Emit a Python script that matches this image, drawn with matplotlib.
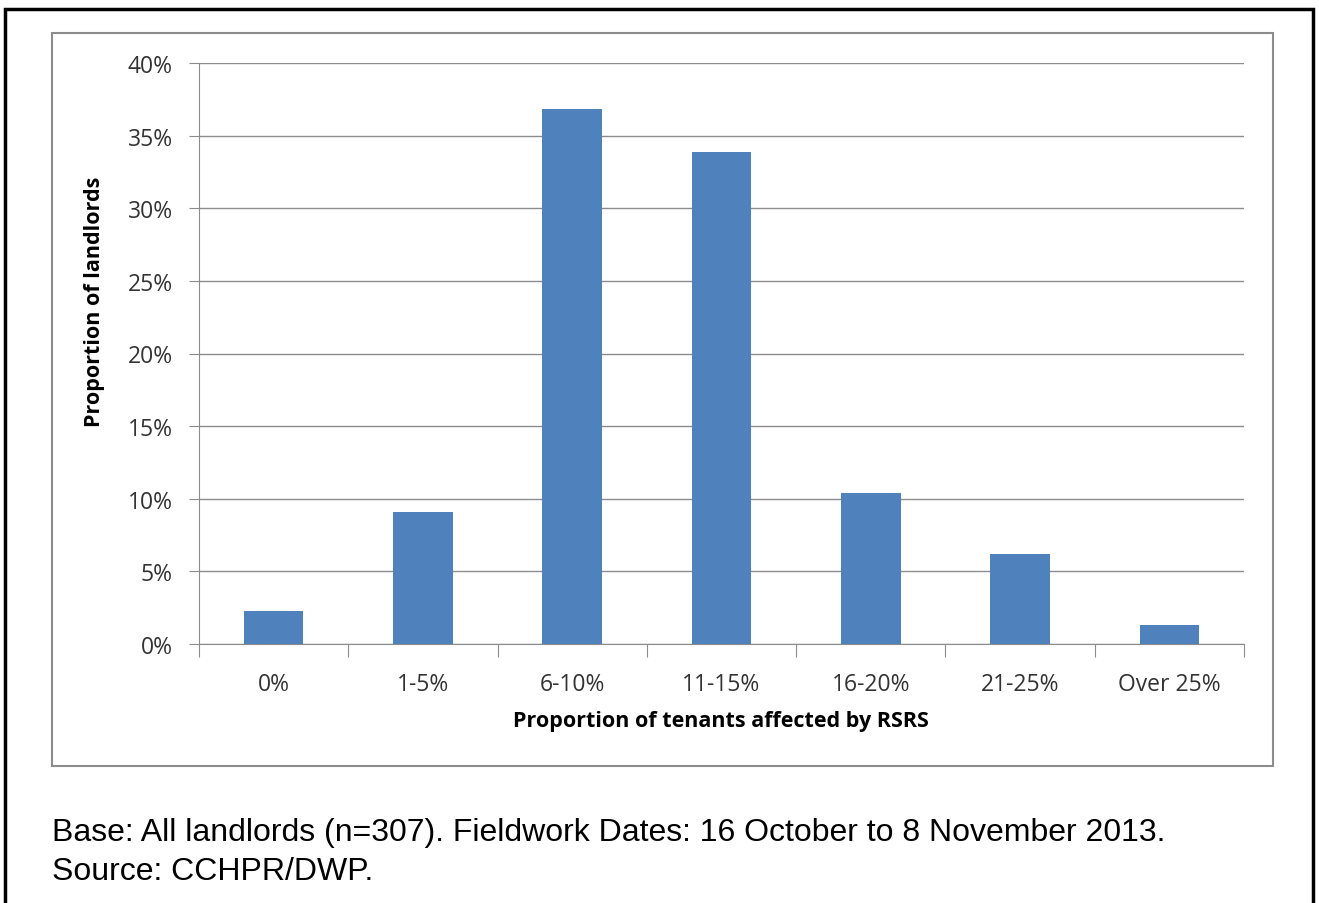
import matplotlib.pyplot as plt
from matplotlib.patches import Rectangle
from matplotlib.ticker import FuncFormatter

categories = ["0%", "1-5%", "6-10%", "11-15%", "16-20%", "21-25%", "Over 25%"]
landlord_share = [2.3, 9.1, 36.8, 33.9, 10.4, 6.2, 1.3]
y_ticks = [0, 5, 10, 15, 20, 25, 30, 35, 40]

W, H = 1319, 904
fig = plt.figure(figsize=(W / 100, H / 100), dpi=100)

# outer black frame (bottom edge runs off the picture)
fig.patches.append(Rectangle((5 / W, -0.05), 1308 / W, 1.05 - 10 / H,
                             transform=fig.transFigure, fill=False,
                             edgecolor="black", linewidth=2.5))
# grey chart-area box
fig.patches.append(Rectangle((52 / W, 1 - 767 / H), 1221 / W, 733 / H,
                             transform=fig.transFigure, fill=False,
                             edgecolor="#8c8c8c", linewidth=1.5))

ax = fig.add_axes([199 / W, 1 - 645 / H, 1045 / W, 581 / H])
x = range(len(categories))
ax.bar(x, landlord_share, width=0.4, color="#4F81BD", zorder=3)

ax.set_xlim(-0.5, len(categories) - 0.5)
ax.set_ylim(0, 40)
ax.set_yticks(y_ticks)
ax.yaxis.set_major_formatter(FuncFormatter(lambda v, p: f"{v:.0f}%"))
ax.yaxis.grid(True, color="#8c8c8c", linewidth=1, zorder=0)

ax.set_xticks([i - 0.5 for i in range(len(categories) + 1)])
ax.set_xticklabels([])
ax.set_xticks(list(x), minor=True)
ax.set_xticklabels(categories, minor=True)
ax.tick_params(axis="x", which="major", length=9, color="#8c8c8c", direction="out")
ax.tick_params(axis="x", which="minor", length=0, pad=20, labelsize=16.5, labelcolor="#333333")
ax.tick_params(axis="y", length=7, color="#8c8c8c", labelsize=16.5, labelcolor="#333333", pad=12)

for side in ["top", "right"]:
    ax.spines[side].set_visible(False)
for side in ["left", "bottom"]:
    ax.spines[side].set_color("#8c8c8c")

font = "Open Sans"
for lab in ax.get_xticklabels(minor=True) + ax.get_yticklabels():
    lab.set_family(font)

ax.set_xlabel("Proportion of tenants affected by RSRS", fontsize=15.5, fontweight="bold",
              family=font)
ax.xaxis.set_label_coords(522 / 1045, -66 / 581)
ax.set_ylabel("Proportion of landlords", fontsize=15.5, fontweight="bold", family=font)
ax.yaxis.set_label_coords(-94 / 1045, 343 / 581)

fig.text(52 / W, 1 - 833 / H, "Base: All landlords (n=307). Fieldwork Dates: 16 October to 8 November 2013.",
         fontsize=23, family="Liberation Sans", va="center", ha="left")
fig.text(52 / W, 1 - 872 / H, "Source: CCHPR/DWP.",
         fontsize=23, family="Liberation Sans", va="center", ha="left")

fig.savefig("out.png", dpi=100)
